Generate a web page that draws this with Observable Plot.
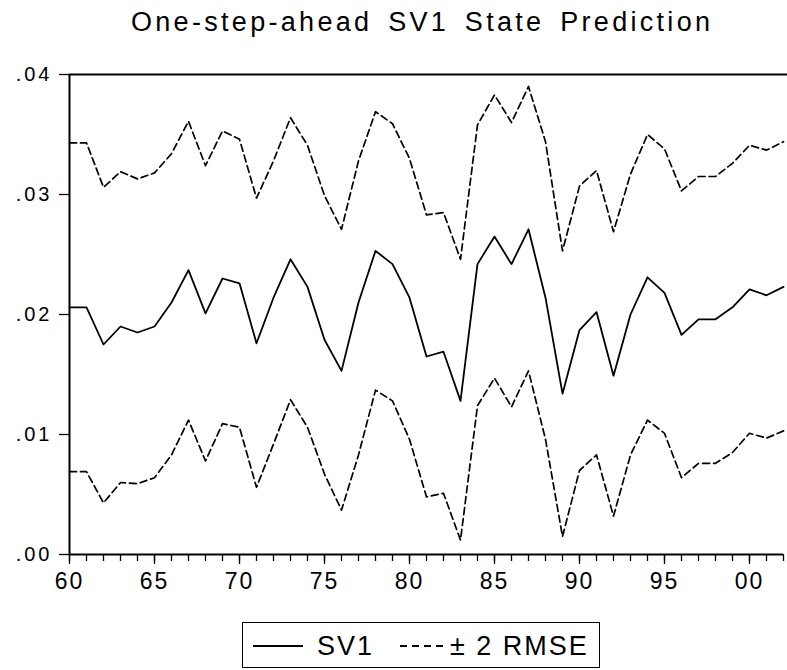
<!DOCTYPE html>
<html><head><meta charset="utf-8">
<script src="https://cdn.jsdelivr.net/npm/d3@7"></script>
<script src="https://cdn.jsdelivr.net/npm/@observablehq/plot@0.6"></script>
<style>
body{margin:0;background:#fff;font-family:"Liberation Sans",Arial,sans-serif;}
#wrap{position:relative;width:787px;height:670px;overflow:hidden;background:#fff;}
#title{position:absolute;left:131px;top:9px;white-space:nowrap;font-size:27px;line-height:27px;letter-spacing:3.3px;word-spacing:5px;color:#000;}
#chart{position:absolute;left:0;top:60px;}
#chart g[aria-label="y-axis tick label"] text{letter-spacing:3px;}
#chart g[aria-label="x-axis tick label"] text{letter-spacing:2px;}
#legend{position:absolute;left:242px;top:622px;width:358px;height:46px;border:1.5px solid #000;box-sizing:border-box;font-size:27px;line-height:27px;color:#000;}
#legend svg{position:absolute;left:0;top:0;}
#legend span{position:absolute;top:10px;white-space:nowrap;letter-spacing:2px;}
</style></head>
<body>
<div id="wrap">
  <div id="title">One-step-ahead SV1 State Prediction</div>
  <div id="chart"></div>
  <div id="legend">
    <svg width="356" height="44"><line x1="10" x2="60" y1="23" y2="23" stroke="#000" stroke-width="1.8"/><line x1="157" x2="200" y1="23" y2="23" stroke="#000" stroke-width="1.8" stroke-dasharray="7,5"/></svg>
    <span style="left:74px">SV1</span>
    <span style="left:207px">± 2 RMSE</span>
  </div>
</div>
<script>
const years = [1960,1961,1962,1963,1964,1965,1966,1967,1968,1969,1970,1971,1972,1973,1974,1975,1976,1977,1978,1979,1980,1981,1982,1983,1984,1985,1986,1987,1988,1989,1990,1991,1992,1993,1994,1995,1996,1997,1998,1999,2000,2001,2002];
const sv1 = [0.0206,0.0206,0.0175,0.0190,0.0185,0.0190,0.0210,0.0237,0.0201,0.0230,
             0.0226,0.0176,0.0214,0.0246,0.0223,0.0179,0.0153,0.0210,0.0253,0.0242,
             0.0214,0.0165,0.0169,0.0128,0.0242,0.0265,0.0242,0.0271,0.0214,0.0134,
             0.0187,0.0202,0.0149,0.0200,0.0231,0.0218,0.0183,0.0196,0.0196,0.0206,
             0.0221,0.0216,0.0223];
const upper = [0.0343,0.0343,0.0306,0.0319,0.0313,0.0318,0.0334,0.0361,0.0324,0.0353,
               0.0346,0.0297,0.0328,0.0364,0.0341,0.0299,0.0271,0.0328,0.0369,0.0359,
               0.0330,0.0283,0.0285,0.0246,0.0358,0.0383,0.0360,0.0390,0.0344,0.0253,
               0.0307,0.0320,0.0269,0.0317,0.0350,0.0338,0.0303,0.0315,0.0315,0.0326,
               0.0341,0.0337,0.0344];
const lower = [0.0069,0.0069,0.0043,0.0060,0.0059,0.0064,0.0083,0.0112,0.0078,0.0109,
               0.0106,0.0056,0.0092,0.0129,0.0106,0.0067,0.0037,0.0083,0.0137,0.0128,
               0.0096,0.0048,0.0051,0.0012,0.0124,0.0147,0.0123,0.0153,0.0096,0.0015,
               0.0070,0.0083,0.0032,0.0083,0.0112,0.0101,0.0064,0.0076,0.0076,0.0085,
               0.0101,0.0097,0.0103];
const xMajor = [1960,1965,1970,1975,1980,1985,1990,1995,2000];
const xTickLabels = ["60","65","70","75","80","85","90","95","00"];
const yTicks = [0,0.01,0.02,0.03,0.04];
const yTickLabels = [".00",".01",".02",".03",".04"];

const rows = years.map((y,i)=>({year:y, sv1:sv1[i], upper:upper[i], lower:lower[i]}));

const chart = Plot.plot({
  width: 787,
  height: 550,
  marginTop: 14,
  marginLeft: 69,
  marginRight: 4,
  marginBottom: 56,
  style: {fontFamily: '"Liberation Sans", Arial, sans-serif', color: "#000", background: "#fff", overflow: "visible"},
  x: {domain: [1960, 2002], label: null},
  y: {domain: [0, 0.04], label: null},
  marks: [
    Plot.axisX({ticks: years, tickSize: 7, tickFormat: () => "", strokeWidth: 1.3, label: null}),
    Plot.axisX({ticks: xMajor, tickSize: 10, tickPadding: 8, fontSize: 23, strokeWidth: 1.3, label: null,
                tickFormat: d => xTickLabels[xMajor.indexOf(d)]}),
    Plot.axisY({ticks: yTicks, tickSize: 10, tickPadding: 7, fontSize: 20, strokeWidth: 1.3, label: null,
                tickFormat: d => yTickLabels[yTicks.indexOf(d)]}),
    Plot.ruleX([1960], {stroke: "#000", strokeWidth: 2}),
    Plot.ruleY([0], {stroke: "#000", strokeWidth: 2}),
    Plot.ruleY([0.04], {stroke: "#000", strokeWidth: 2, insetRight: -4}),
    Plot.line(rows, {x: "year", y: "upper", stroke: "#000", strokeWidth: 1.7, strokeDasharray: "7,4"}),
    Plot.line(rows, {x: "year", y: "lower", stroke: "#000", strokeWidth: 1.7, strokeDasharray: "7,4"}),
    Plot.line(rows, {x: "year", y: "sv1", stroke: "#000", strokeWidth: 1.8})
  ]
});
document.getElementById("chart").appendChild(chart);
</script>
</body></html>
